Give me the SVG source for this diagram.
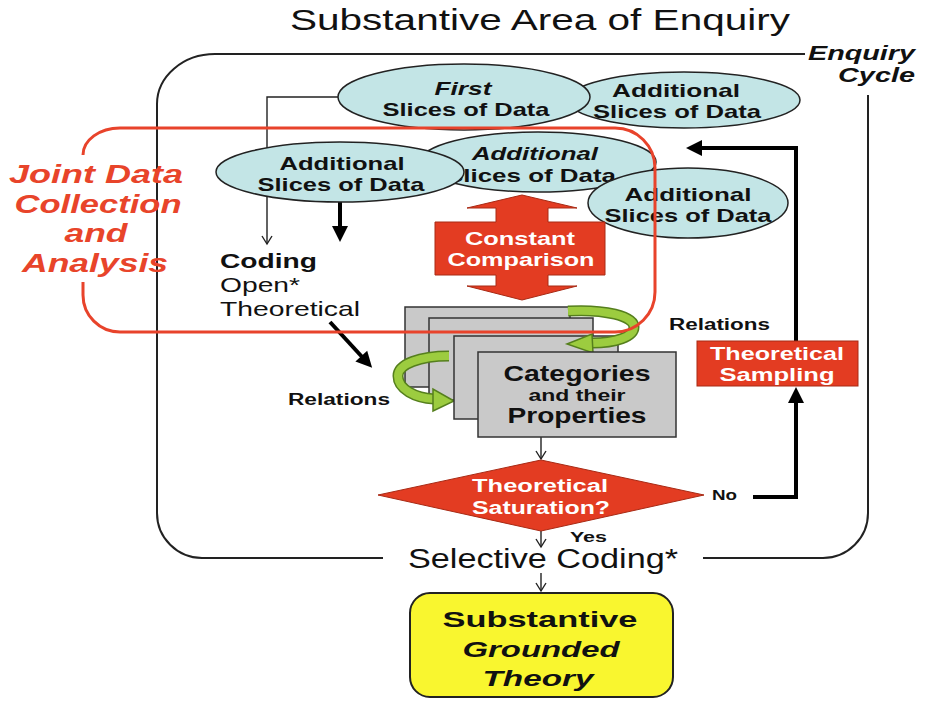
<svg xmlns="http://www.w3.org/2000/svg" width="928" height="701" viewBox="0 0 928 701">
<defs>
<style>
text{font-family:"Liberation Sans",Arial,sans-serif;fill:#111}
.b{font-weight:bold}
.i{font-style:italic}
.c{text-anchor:middle}
.ell{fill:#c3e5e6;stroke:#222;stroke-width:1.5}
.gray{fill:#c9c9c9;stroke:#333;stroke-width:1.5}
.red{fill:#e33c22;stroke:#a82a15;stroke-width:1}
.w{fill:#fff}
.thin{fill:none;stroke:#222;stroke-width:1.4}
.thick{fill:none;stroke:#000;stroke-width:4}
.gout{fill:none;stroke:#557f1d;stroke-width:11}
.gin{fill:none;stroke:#9ccc3f;stroke-width:8}
.ghead{fill:#9ccc3f;stroke:#557f1d;stroke-width:1.5}
.frame{fill:none;stroke:#222;stroke-width:2}
.jr{fill:#e8442a}
</style>
<marker id="v" markerUnits="userSpaceOnUse" markerWidth="12" markerHeight="12" refX="9" refY="5" orient="auto" overflow="visible"><path d="M1,0 L9,5 L1,10" fill="none" stroke="#222" stroke-width="1.4"/></marker>
<marker id="t" markerUnits="userSpaceOnUse" markerWidth="18" markerHeight="18" refX="4" refY="8" orient="auto" overflow="visible"><path d="M0,0 L16,8 L0,16 z" fill="#000"/></marker>
</defs>
<rect width="928" height="701" fill="#fff"/>

<g id="title">
<text class="c" x="540" y="30" font-size="30" textLength="500" lengthAdjust="spacingAndGlyphs">Substantive Area of Enquiry</text>
</g>

<g id="enquiry-cycle">
<path class="frame" d="M805,54 H215 A58,50 0 0 0 157,104 V513 A45,45 0 0 0 202,558 H383"/>
<path class="frame" d="M868,95 V513 A45,45 0 0 1 823,558 H703"/>
<text class="b i" x="915" y="60" font-size="20" text-anchor="end" textLength="107" lengthAdjust="spacingAndGlyphs">Enquiry</text>
<text class="b i" x="915" y="82" font-size="20" text-anchor="end" textLength="77" lengthAdjust="spacingAndGlyphs">Cycle</text>
</g>

<g id="connectors">
<path class="thin" d="M338,97 H267 V244" marker-end="url(#v)"/>
<path class="thick" d="M340,202 V230" marker-end="url(#t)"/>
<path class="thick" d="M330,322 L364,359" marker-end="url(#t)"/>
<path class="thin" d="M541,437 V459" marker-end="url(#v)"/>
<path class="thin" d="M541,531 V547" marker-end="url(#v)"/>
<path class="thin" d="M541,573 V591" marker-end="url(#v)"/>
<path class="thick" d="M753,497 H796 V399" marker-end="url(#t)"/>
<path class="thick" d="M796,341 V148 H698" marker-end="url(#t)"/>
<text class="b" x="712" y="500" font-size="15" textLength="25" lengthAdjust="spacingAndGlyphs">No</text>
<text class="b" x="570" y="542" font-size="15" textLength="37" lengthAdjust="spacingAndGlyphs">Yes</text>
<text class="b" x="669" y="330" font-size="16" textLength="101" lengthAdjust="spacingAndGlyphs">Relations</text>
<text class="b" x="288" y="405" font-size="16" textLength="102" lengthAdjust="spacingAndGlyphs">Relations</text>
</g>

<g id="slices-2">
<ellipse class="ell" cx="684" cy="100" rx="116" ry="28"/>
<text class="b c" x="676" y="97" font-size="19" textLength="128" lengthAdjust="spacingAndGlyphs">Additional</text>
<text class="b c" x="677" y="118" font-size="19" textLength="168" lengthAdjust="spacingAndGlyphs">Slices of Data</text>
</g>
<g id="slices-1">
<ellipse class="ell" cx="464" cy="97" rx="126" ry="33"/>
<text class="b i c" x="463" y="95" font-size="19" textLength="57" lengthAdjust="spacingAndGlyphs">First</text>
<text class="b c" x="466" y="116" font-size="19" textLength="167" lengthAdjust="spacingAndGlyphs">Slices of Data</text>
</g>
<g id="slices-4">
<ellipse class="ell" cx="538" cy="162" rx="118" ry="30"/>
<text class="b i c" x="535" y="160" font-size="19" textLength="126" lengthAdjust="spacingAndGlyphs">Additional</text>
<text class="b c" x="531" y="182" font-size="19" textLength="170" lengthAdjust="spacingAndGlyphs">Slices of Data</text>
</g>
<g id="slices-3">
<ellipse class="ell" cx="340" cy="172" rx="124" ry="30"/>
<text class="b c" x="342" y="170" font-size="19" textLength="125" lengthAdjust="spacingAndGlyphs">Additional</text>
<text class="b c" x="341" y="191" font-size="19" textLength="167" lengthAdjust="spacingAndGlyphs">Slices of Data</text>
</g>
<g id="slices-5">
<ellipse class="ell" cx="688" cy="203" rx="100" ry="35"/>
<text class="b c" x="688" y="201" font-size="19" textLength="127" lengthAdjust="spacingAndGlyphs">Additional</text>
<text class="b c" x="688" y="222" font-size="19" textLength="167" lengthAdjust="spacingAndGlyphs">Slices of Data</text>
</g>

<g id="coding">
<text class="b" x="220" y="268" font-size="21" textLength="97" lengthAdjust="spacingAndGlyphs">Coding</text>
<text x="220" y="292" font-size="21" textLength="80" lengthAdjust="spacingAndGlyphs">Open*</text>
<text x="220" y="316" font-size="21" textLength="140" lengthAdjust="spacingAndGlyphs">Theoretical</text>
</g>

<g id="constant-comparison">
<path class="red" d="M522,195 L577,208 L548,208 L548,222 L605,222 L605,275 L548,275 L548,286 L577,286 L522,300 L467,286 L496,286 L496,275 L435,275 L435,222 L496,222 L496,208 L467,208 Z"/>
<text class="b c w" x="520" y="245" font-size="19" textLength="110" lengthAdjust="spacingAndGlyphs">Constant</text>
<text class="b c w" x="521" y="266" font-size="19" textLength="147" lengthAdjust="spacingAndGlyphs">Comparison</text>
</g>

<g id="categories">
<rect class="gray" x="405" y="307" width="165" height="80"/>
<rect class="gray" x="429" y="318" width="164" height="82"/>
<path class="gout" d="M449,356 C420,356 398,364 398,376 C398,389 415,398 434,399"/>
<path class="gin" d="M449,356 C420,356 398,364 398,376 C398,389 415,398 434,399"/>
<polygon class="ghead" points="454,401 433,389 433,411"/>
<rect class="gray" x="454" y="336" width="164" height="83"/>
<path class="gout" d="M568,311 C605,309 634,316 634,327 C634,337 615,343 592,343"/>
<path class="gin" d="M568,311 C605,309 634,316 634,327 C634,337 615,343 592,343"/>
<polygon class="ghead" points="567,344 592,334 593,353"/>
<rect class="gray" x="478" y="352" width="198" height="85"/>
<text class="b c" x="577" y="381" font-size="22" textLength="147" lengthAdjust="spacingAndGlyphs">Categories</text>
<text class="b c" x="577" y="401" font-size="16" textLength="97" lengthAdjust="spacingAndGlyphs">and their</text>
<text class="b c" x="577" y="423" font-size="22" textLength="139" lengthAdjust="spacingAndGlyphs">Properties</text>
</g>

<g id="saturation">
<polygon class="red" points="378,495 541,460 704,495 541,531"/>
<text class="b c w" x="540" y="492" font-size="18" textLength="136" lengthAdjust="spacingAndGlyphs">Theoretical</text>
<text class="b c w" x="541" y="514" font-size="18" textLength="138" lengthAdjust="spacingAndGlyphs">Saturation?</text>
</g>

<g id="theoretical-sampling">
<rect class="red" x="697" y="341" width="161" height="45"/>
<text class="b c w" x="777" y="360" font-size="19" textLength="134" lengthAdjust="spacingAndGlyphs">Theoretical</text>
<text class="b c w" x="777" y="381" font-size="19" textLength="115" lengthAdjust="spacingAndGlyphs">Sampling</text>
</g>

<g id="selective-coding">
<text x="408" y="568" font-size="27" textLength="270" lengthAdjust="spacingAndGlyphs">Selective Coding*</text>
</g>

<g id="grounded-theory">
<rect x="410" y="593" width="263" height="104" rx="20" fill="#f9f62f" stroke="#222" stroke-width="2"/>
<text class="b c" x="540" y="627" font-size="22" textLength="195" lengthAdjust="spacingAndGlyphs">Substantive</text>
<text class="b i c" x="541" y="657" font-size="22" textLength="157" lengthAdjust="spacingAndGlyphs">Grounded</text>
<text class="b i c" x="538" y="686" font-size="22" textLength="111" lengthAdjust="spacingAndGlyphs">Theory</text>
</g>

<g id="joint-data-collection">
<path d="M83,155 A37,27 0 0 1 120,128 H615 A40,40 0 0 1 655,168 V292 A40,40 0 0 1 615,332 H120 A37,37 0 0 1 83,295 V282" fill="none" stroke="#e8432b" stroke-width="3"/>
<text class="b i c jr" x="96" y="183" font-size="26" textLength="174" lengthAdjust="spacingAndGlyphs">Joint Data</text>
<text class="b i c jr" x="98" y="213" font-size="26" textLength="167" lengthAdjust="spacingAndGlyphs">Collection</text>
<text class="b i c jr" x="96" y="242" font-size="26" textLength="63" lengthAdjust="spacingAndGlyphs">and</text>
<text class="b i c jr" x="95" y="272" font-size="26" textLength="146" lengthAdjust="spacingAndGlyphs">Analysis</text>
</g>
</svg>
